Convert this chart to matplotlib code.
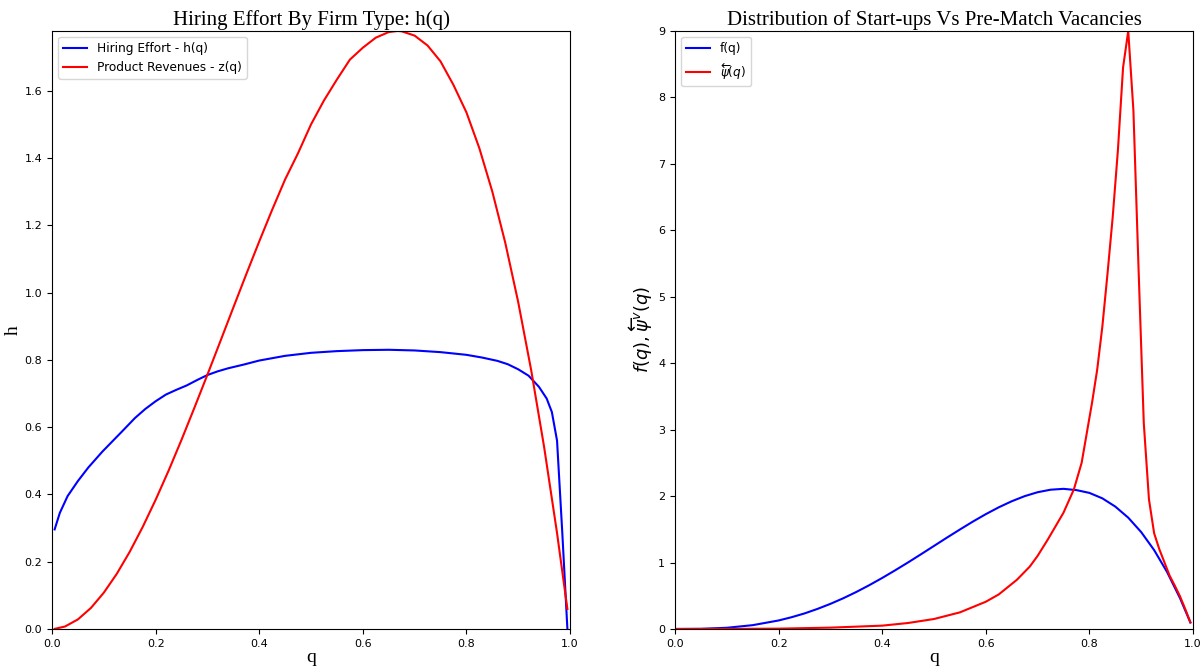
import matplotlib
matplotlib.use("Agg")
import matplotlib.pyplot as plt

# ---- Left panel data ----
q_h = [0.005, 0.015, 0.03, 0.05, 0.07, 0.097, 0.116, 0.135, 0.16, 0.18, 0.2, 0.22,
       0.24, 0.26, 0.28, 0.3, 0.32, 0.34, 0.37, 0.4, 0.45, 0.5, 0.55, 0.6, 0.65, 0.7,
       0.75, 0.8, 0.83, 0.86, 0.88, 0.9, 0.92, 0.94, 0.955, 0.965, 0.975, 0.985, 0.995]
h_vals = [0.296, 0.345, 0.395, 0.44, 0.48, 0.527, 0.557, 0.587, 0.627, 0.654, 0.677,
          0.697, 0.711, 0.724, 0.740, 0.755, 0.766, 0.775, 0.786, 0.798, 0.812, 0.821,
          0.826, 0.829, 0.83, 0.828, 0.823, 0.815, 0.807, 0.797, 0.787, 0.772, 0.753,
          0.72, 0.685, 0.645, 0.56, 0.29, 0.0]

q_z = [0.005, 0.025, 0.05, 0.075, 0.1, 0.125, 0.15, 0.175, 0.2, 0.225, 0.25, 0.275,
       0.3, 0.325, 0.35, 0.375, 0.4, 0.425, 0.45, 0.475, 0.5, 0.525, 0.55, 0.575,
       0.6, 0.625, 0.65, 0.667, 0.675, 0.7, 0.725, 0.75, 0.775, 0.8, 0.825, 0.85,
       0.875, 0.9, 0.925, 0.95, 0.975, 0.995]
z_vals = [0.0003, 0.0073, 0.0285, 0.0624, 0.108, 0.164, 0.2295, 0.3032, 0.384, 0.4706,
          0.5625, 0.6582, 0.756, 0.8555, 0.9555, 1.0547, 1.152, 1.2463, 1.3365, 1.4146,
          1.5, 1.5712, 1.6335, 1.6925, 1.728, 1.7578, 1.7745, 1.7778, 1.7769, 1.764,
          1.7346, 1.6875, 1.6173, 1.536, 1.4292, 1.3005, 1.1484, 0.972, 0.77, 0.5415,
          0.2852, 0.0594]

# ---- Right panel data ----
q_f = [0.0, 0.05, 0.1, 0.15, 0.2, 0.225, 0.25, 0.275, 0.3, 0.325, 0.35, 0.375, 0.4,
       0.425, 0.45, 0.475, 0.5, 0.525, 0.55, 0.575, 0.6, 0.625, 0.65, 0.675, 0.7,
       0.725, 0.75, 0.775, 0.8, 0.825, 0.85, 0.875, 0.9, 0.925, 0.95, 0.975, 0.995]
f_vals = [0.0, 0.0024, 0.018, 0.0574, 0.128, 0.177, 0.234, 0.302, 0.378, 0.463, 0.557,
          0.659, 0.768, 0.883, 1.002, 1.125, 1.25, 1.375, 1.497, 1.616, 1.728, 1.831,
          1.922, 1.999, 2.058, 2.096, 2.109, 2.09, 2.048, 1.966, 1.842, 1.675, 1.458,
          1.187, 0.857, 0.463, 0.097]

q_psi = [0.0, 0.1, 0.2, 0.3, 0.4, 0.45, 0.5, 0.55, 0.6, 0.625, 0.66, 0.685, 0.7, 0.72,
         0.735, 0.75, 0.77, 0.785, 0.795, 0.805, 0.815, 0.825, 0.835, 0.845, 0.855,
         0.865, 0.875, 0.885, 0.895, 0.905, 0.915, 0.925, 0.935, 0.945, 0.955, 0.965,
         0.975, 0.985, 0.995]
psi_vals = [0.0, 0.001, 0.005, 0.02, 0.05, 0.09, 0.15, 0.25, 0.41, 0.52, 0.74, 0.94,
            1.1, 1.35, 1.55, 1.75, 2.1, 2.5, 2.95, 3.4, 3.9, 4.55, 5.35, 6.2, 7.2, 8.45,
            9.0, 7.8, 5.4, 3.1, 1.95, 1.44, 1.2, 1.0, 0.8, 0.65, 0.49, 0.3, 0.1]

serif = ["Liberation Serif", "DejaVu Serif"]

fig = plt.figure(figsize=(12.02, 6.66), dpi=100)
ax1 = fig.add_axes([0.0433, 0.0556, 0.4309, 0.8979])
ax2 = fig.add_axes([0.5616, 0.0556, 0.4309, 0.8979])

ax1.plot(q_h, h_vals, color="blue", label="Hiring Effort - h(q)")
ax1.plot(q_z, z_vals, color="red", label="Product Revenues - z(q)")
ax1.set_xlim(0, 1)
ax1.set_ylim(0, max(z_vals))
ax1.set_title("Hiring Effort By Firm Type: h(q)", family=serif, fontsize=15, pad=4)
ax1.set_xlabel("q", family=serif, fontsize=14, labelpad=0)
ax1.set_ylabel("h", family=serif, fontsize=14, labelpad=2)
ax1.legend(loc="upper left", fontsize=8.75)

ax2.plot(q_f, f_vals, color="blue", label="f(q)")
ax2.plot(q_psi, psi_vals, color="red", label=r"$\overleftarrow{\psi}(q)$")
ax2.set_xlim(0, 1)
ax2.set_ylim(0, max(psi_vals))
ax2.set_title("Distribution of Start-ups Vs Pre-Match Vacancies", family=serif,
              fontsize=15, pad=4)
ax2.set_xlabel("q", family=serif, fontsize=14, labelpad=0)
ax2.set_ylabel(r"$f(q), \overleftarrow{\psi}^v(q)$", fontsize=13, labelpad=2)
ax2.legend(loc="upper left", fontsize=8.75)

for ax in (ax1, ax2):
    ax.tick_params(labelsize=8)

fig.savefig("out.png", dpi=100)
